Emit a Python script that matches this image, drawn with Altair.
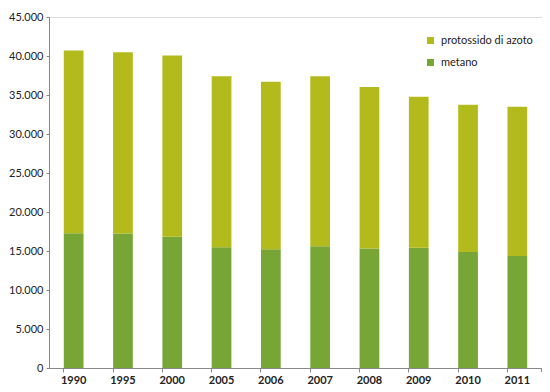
import altair as alt
import pandas as pd

years = ["1990", "1995", "2000", "2005", "2006", "2007", "2008", "2009", "2010", "2011"]
metano = [17280, 17240, 16830, 15490, 15210, 15610, 15330, 15410, 14880, 14350]
protossido = [23420, 23250, 23220, 21910, 21500, 21790, 20690, 19350, 18860, 19150]
series = ["protossido di azoto", "metano"]
colors = ["#b3ba1b", "#77a637"]
y_ticks = [0, 5000, 10000, 15000, 20000, 25000, 30000, 35000, 40000, 45000]

rows = []
for i, yr in enumerate(years):
    rows.append({"anno": yr, "gas": "metano", "valore": metano[i], "ord": 0})
    rows.append({"anno": yr, "gas": "protossido di azoto", "valore": protossido[i], "ord": 1})
df = pd.DataFrame(rows)

W, H = 493, 351
FONT = "Lato"

bars = alt.Chart(df).mark_bar().encode(
    x=alt.X("anno:N", sort=years, title=None,
            scale=alt.Scale(paddingInner=0.6, paddingOuter=0.3),
            axis=alt.Axis(labelAngle=0, bandPosition=0, tickSize=4, labelPadding=2,
                          labelFontWeight="bold", labelFontSize=11, labelColor="#222",
                          domainColor="#888", tickColor="#888", labelFont=FONT)),
    y=alt.Y("valore:Q", stack="zero", title=None,
            scale=alt.Scale(domain=[0, 45000], nice=False),
            axis=alt.Axis(values=y_ticks, grid=False, tickSize=3, labelPadding=3,
                          labelExpr="replace(format(datum.value, ','), ',', '.')",
                          labelFontSize=11, labelColor="#222", labelFont=FONT,
                          domainColor="#888", tickColor="#888")),
    color=alt.Color("gas:N", scale=alt.Scale(domain=series, range=colors),
                    legend=alt.Legend(title=None, orient="none", legendX=376, legendY=18,
                                      symbolType="square", symbolSize=49, symbolStrokeWidth=0,
                                      labelFontSize=11, labelFont=FONT, labelColor="#222",
                                      rowPadding=10, labelOffset=5, padding=0)),
    order=alt.Order("ord:Q", sort="ascending"),
)

end_tick = alt.Chart(pd.DataFrame({"a": [0]})).mark_rule(color="#888", strokeWidth=1).encode(
    x=alt.value(W - 0.5), y=alt.value(H), y2=alt.value(H + 4)
)

chart = alt.layer(bars, end_tick).properties(
    width=W, height=H,
    autosize=alt.AutoSizeParams(type="none"),
    padding={"left": 41, "top": 9, "right": 0, "bottom": 16},
).configure_view(stroke=None).configure(background="white")

chart.save("out.html", embed_options={"renderer": "svg", "actions": False})
